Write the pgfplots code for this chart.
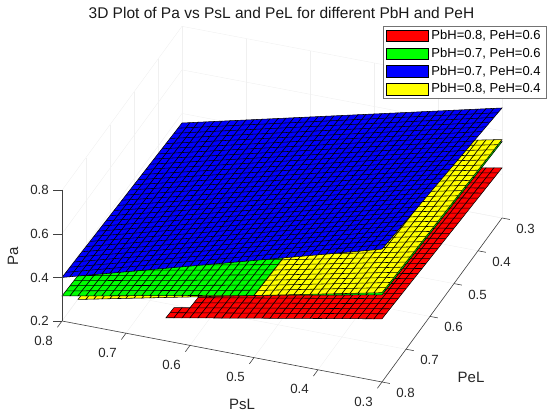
\documentclass[border=0pt]{standalone}
\usepackage{fontspec}
\setmainfont{Liberation Sans}
\usepackage{pgfplots}
\pgfplotsset{compat=1.18}
\pgfplotsset{
  colormap={cred}{rgb255=(255,0,0) rgb255=(255,0,0)},
  colormap={cgreen}{rgb255=(0,255,0) rgb255=(0,255,0)},
  colormap={cblue}{rgb255=(0,0,255) rgb255=(0,0,255)},
  colormap={cyellow}{rgb255=(255,255,0) rgb255=(255,255,0)},
  srf/.style={surf, shader=faceted, faceted color=black, line width=0.55pt, forget plot},
  mln/.style={draw=black, line width=0.55pt, mark=none, empty line=jump, forget plot},
}
\tikzset{
  gridc/.style={black!6, line width=0.4pt},
  axc/.style={black!75, line width=0.6pt},
}
\newcommand{\tickfont}{\fontsize{13.3}{15}\selectfont}
\newcommand{\labfont}{\fontsize{15}{17}\selectfont}
\begin{document}
\begin{tikzpicture}
\begin{axis}[
  x={(-640pt,122pt)}, y={(-240pt,-328pt)}, z={(0pt,217.8pt)},
  xmin=0.3, xmax=0.8, ymin=0.3, ymax=0.8, zmin=0.2, zmax=0.8,
  hide axis, clip=false,
  title={3D Plot of Pa vs PsL and PeL for different PbH and PeH},
  every axis title/.style={at={(axis cs:0.8,0.8,0.2)}, anchor=center, xshift=219.5pt, yshift=307.7pt, font=\fontsize{15.5}{18}\selectfont, inner sep=0pt, text=black!90},
  legend style={at={(axis cs:0.3,0.3,0.8)}, anchor=north east, xshift=45pt, yshift=61.3pt,
    font=\fontsize{13}{15}\selectfont, draw=black!55, line width=0.6pt, fill=white,
    inner xsep=3.5pt, inner ysep=1.5pt, row sep=1.6pt, nodes={inner xsep=2.6pt, inner ysep=2.6pt}},
  legend cell align=left,
]
% faint grid on the back planes
\pgfplotsinvokeforeach{0.3,0.4,0.5,0.6,0.7,0.8}{
  \draw[gridc] (axis cs:#1,0.3,0.2) -- (axis cs:#1,0.8,0.2);
  \draw[gridc] (axis cs:#1,0.3,0.2) -- (axis cs:#1,0.3,0.8);
  \draw[gridc] (axis cs:0.3,#1,0.2) -- (axis cs:0.8,#1,0.2);
  \draw[gridc] (axis cs:0.8,#1,0.2) -- (axis cs:0.8,#1,0.8);
}
\pgfplotsinvokeforeach{0.2,0.4,0.6,0.8}{
  \draw[gridc] (axis cs:0.8,0.3,#1) -- (axis cs:0.8,0.8,#1);
  \draw[gridc] (axis cs:0.3,0.3,#1) -- (axis cs:0.8,0.3,#1);
}
\pgfplotsinvokeforeach{3,4,5,6,7,8}{
  \coordinate (xf#1) at (axis cs:0.#1,0.8,0.2);
  \coordinate (yr#1) at (axis cs:0.3,0.#1,0.2);
}
\pgfplotsinvokeforeach{2,4,6,8}{
  \coordinate (zf#1) at (axis cs:0.8,0.8,0.#1);
}

% ---------------- red: PbH=0.8, PeH=0.6 ----------------
\addplot3[srf, colormap name=cred] table {
0.6125 0.3 0.2596
0.6125 0.8 0.3196

0.6000 0.3 0.2664
0.6000 0.8 0.3264

0.5875 0.3 0.2733
0.5875 0.8 0.3333

0.5750 0.3 0.2801
0.5750 0.8 0.3401

0.5625 0.3 0.2869
0.5625 0.8 0.3469

0.5500 0.3 0.2937
0.5500 0.8 0.3537

0.5375 0.3 0.3005
0.5375 0.8 0.3605

0.5250 0.3 0.3073
0.5250 0.8 0.3673

0.5125 0.3 0.3141
0.5125 0.8 0.3741

0.5000 0.3 0.3210
0.5000 0.8 0.3810

0.4875 0.3 0.3278
0.4875 0.8 0.3878

0.4750 0.3 0.3346
0.4750 0.8 0.3946

0.4625 0.3 0.3414
0.4625 0.8 0.4014

0.4500 0.3 0.3482
0.4500 0.8 0.4082

0.4375 0.3 0.3550
0.4375 0.8 0.4150

0.4250 0.3 0.3619
0.4250 0.8 0.4219

0.4125 0.3 0.3687
0.4125 0.8 0.4287

0.4000 0.3 0.3755
0.4000 0.8 0.4355

0.3875 0.3 0.3823
0.3875 0.8 0.4423

0.3750 0.3 0.3891
0.3750 0.8 0.4491

0.3625 0.3 0.3959
0.3625 0.8 0.4559

0.3500 0.3 0.4027
0.3500 0.8 0.4627

0.3375 0.3 0.4096
0.3375 0.8 0.4696

0.3250 0.3 0.4164
0.3250 0.8 0.4764

0.3125 0.3 0.4232
0.3125 0.8 0.4832

0.3000 0.3 0.4300
0.3000 0.8 0.4900
};
\addplot3[srf, colormap name=cred] table {
0.6375 0.7667 0.3020
0.6375 0.8 0.3060

0.6250 0.7667 0.3088
0.6250 0.8 0.3128

0.6125 0.7667 0.3156
0.6125 0.8 0.3196
};
\addplot3[mln] table {
0.6125 0.3167 0.2616
0.3 0.3167 0.4320

0.6125 0.3333 0.2636
0.3 0.3333 0.4340

0.6125 0.3500 0.2656
0.3 0.3500 0.4360

0.6125 0.3667 0.2676
0.3 0.3667 0.4380

0.6125 0.3833 0.2696
0.3 0.3833 0.4400

0.6125 0.4000 0.2716
0.3 0.4000 0.4420

0.6125 0.4167 0.2736
0.3 0.4167 0.4440

0.6125 0.4333 0.2756
0.3 0.4333 0.4460

0.6125 0.4500 0.2776
0.3 0.4500 0.4480

0.6125 0.4667 0.2796
0.3 0.4667 0.4500

0.6125 0.4833 0.2816
0.3 0.4833 0.4520

0.6125 0.5000 0.2836
0.3 0.5000 0.4540

0.6125 0.5167 0.2856
0.3 0.5167 0.4560

0.6125 0.5333 0.2876
0.3 0.5333 0.4580

0.6125 0.5500 0.2896
0.3 0.5500 0.4600

0.6125 0.5667 0.2916
0.3 0.5667 0.4620

0.6125 0.5833 0.2936
0.3 0.5833 0.4640

0.6125 0.6000 0.2956
0.3 0.6000 0.4660

0.6125 0.6167 0.2976
0.3 0.6167 0.4680

0.6125 0.6333 0.2996
0.3 0.6333 0.4700

0.6125 0.6500 0.3016
0.3 0.6500 0.4720

0.6125 0.6667 0.3036
0.3 0.6667 0.4740

0.6125 0.6833 0.3056
0.3 0.6833 0.4760

0.6125 0.7000 0.3076
0.3 0.7000 0.4780

0.6125 0.7167 0.3096
0.3 0.7167 0.4800

0.6125 0.7333 0.3116
0.3 0.7333 0.4820

0.6125 0.7500 0.3136
0.3 0.7500 0.4840

0.6125 0.7667 0.3156
0.3 0.7667 0.4860

0.6375 0.7833 0.3040
0.3 0.7833 0.4880
};

% ---------------- yellow (part below green): PbH=0.8, PeH=0.4 ----------------
\addplot3[srf, colormap name=cyellow] table {
0.7750 0.3 0.2630
0.7750 0.8 0.3130

0.7625 0.3 0.2708
0.7625 0.8 0.3208

0.7500 0.3 0.2786
0.7500 0.8 0.3286

0.7375 0.3 0.2864
0.7375 0.8 0.3364

0.7250 0.3 0.2943
0.7250 0.8 0.3443

0.7125 0.3 0.3021
0.7125 0.8 0.3521

0.7000 0.3 0.3099
0.7000 0.8 0.3599

0.6875 0.3 0.3177
0.6875 0.8 0.3677

0.6750 0.3 0.3255
0.6750 0.8 0.3755

0.6625 0.3 0.3333
0.6625 0.8 0.3833

0.6500 0.3 0.3412
0.6500 0.8 0.3912

0.6375 0.3 0.3490
0.6375 0.8 0.3990

0.6250 0.3 0.3568
0.6250 0.8 0.4068

0.6125 0.3 0.3646
0.6125 0.8 0.4146

0.6000 0.3 0.3724
0.6000 0.8 0.4224

0.5875 0.3 0.3802
0.5875 0.8 0.4302

0.5750 0.3 0.3881
0.5750 0.8 0.4381

0.5625 0.3 0.3959
0.5625 0.8 0.4459

0.5500 0.3 0.4037
0.5500 0.8 0.4537

0.5375 0.3 0.4115
0.5375 0.8 0.4615

0.5250 0.3 0.4193
0.5250 0.8 0.4693

0.5125 0.3 0.4271
0.5125 0.8 0.4771

0.5000 0.3 0.4349
0.5000 0.8 0.4849
};
\addplot3[mln] table {
0.775 0.3167 0.2647
0.5 0.3167 0.4366

0.775 0.3333 0.2663
0.5 0.3333 0.4382

0.775 0.3500 0.2680
0.5 0.3500 0.4399

0.775 0.3667 0.2697
0.5 0.3667 0.4416

0.775 0.3833 0.2713
0.5 0.3833 0.4432

0.775 0.4000 0.2730
0.5 0.4000 0.4449

0.775 0.4167 0.2747
0.5 0.4167 0.4466

0.775 0.4333 0.2763
0.5 0.4333 0.4482

0.775 0.4500 0.2780
0.5 0.4500 0.4499

0.775 0.4667 0.2797
0.5 0.4667 0.4516

0.775 0.4833 0.2813
0.5 0.4833 0.4532

0.775 0.5000 0.2830
0.5 0.5000 0.4549

0.775 0.5167 0.2847
0.5 0.5167 0.4566

0.775 0.5333 0.2863
0.5 0.5333 0.4582

0.775 0.5500 0.2880
0.5 0.5500 0.4599

0.775 0.5667 0.2897
0.5 0.5667 0.4616

0.775 0.5833 0.2913
0.5 0.5833 0.4632

0.775 0.6000 0.2930
0.5 0.6000 0.4649

0.775 0.6167 0.2947
0.5 0.6167 0.4666

0.775 0.6333 0.2963
0.5 0.6333 0.4682

0.775 0.6500 0.2980
0.5 0.6500 0.4699

0.775 0.6667 0.2997
0.5 0.6667 0.4716

0.775 0.6833 0.3013
0.5 0.6833 0.4732

0.775 0.7000 0.3030
0.5 0.7000 0.4749

0.775 0.7167 0.3047
0.5 0.7167 0.4766

0.775 0.7333 0.3063
0.5 0.7333 0.4782

0.775 0.7500 0.3080
0.5 0.7500 0.4799

0.775 0.7667 0.3097
0.5 0.7667 0.4816

0.775 0.7833 0.3113
0.5 0.7833 0.4832
};

% ---------------- green: PbH=0.7, PeH=0.6 ----------------
\addplot3[srf, colormap name=cgreen] table {
0.8000 0.3 0.2650
0.8000 0.8 0.3150

0.7875 0.3 0.2721
0.7875 0.8 0.3221

0.7750 0.3 0.2793
0.7750 0.8 0.3293

0.7625 0.3 0.2864
0.7625 0.8 0.3364

0.7500 0.3 0.2935
0.7500 0.8 0.3435

0.7375 0.3 0.3006
0.7375 0.8 0.3506

0.7250 0.3 0.3078
0.7250 0.8 0.3578

0.7125 0.3 0.3149
0.7125 0.8 0.3649

0.7000 0.3 0.3220
0.7000 0.8 0.3720

0.6875 0.3 0.3291
0.6875 0.8 0.3791

0.6750 0.3 0.3363
0.6750 0.8 0.3863

0.6625 0.3 0.3434
0.6625 0.8 0.3934

0.6500 0.3 0.3505
0.6500 0.8 0.4005

0.6375 0.3 0.3576
0.6375 0.8 0.4076

0.6250 0.3 0.3648
0.6250 0.8 0.4148

0.6125 0.3 0.3719
0.6125 0.8 0.4219

0.6000 0.3 0.3790
0.6000 0.8 0.4290

0.5875 0.3 0.3861
0.5875 0.8 0.4361

0.5750 0.3 0.3933
0.5750 0.8 0.4433

0.5625 0.3 0.4004
0.5625 0.8 0.4504

0.5500 0.3 0.4075
0.5500 0.8 0.4575

0.5375 0.3 0.4146
0.5375 0.8 0.4646

0.5250 0.3 0.4218
0.5250 0.8 0.4718

0.5125 0.3 0.4289
0.5125 0.8 0.4789

0.5000 0.3 0.4360
0.5000 0.8 0.4860

0.4875 0.3 0.4431
0.4875 0.8 0.4931

0.4750 0.3 0.4503
0.4750 0.8 0.5003

0.4625 0.3 0.4574
0.4625 0.8 0.5074

0.4500 0.3 0.4645
0.4500 0.8 0.5145

0.4375 0.3 0.4716
0.4375 0.8 0.5216

0.4250 0.3 0.4788
0.4250 0.8 0.5288

0.4125 0.3 0.4859
0.4125 0.8 0.5359

0.4000 0.3 0.4930
0.4000 0.8 0.5430

0.3875 0.3 0.5001
0.3875 0.8 0.5501

0.3750 0.3 0.5073
0.3750 0.8 0.5573

0.3625 0.3 0.5144
0.3625 0.8 0.5644

0.3500 0.3 0.5215
0.3500 0.8 0.5715

0.3375 0.3 0.5286
0.3375 0.8 0.5786

0.3250 0.3 0.5358
0.3250 0.8 0.5858

0.3125 0.3 0.5429
0.3125 0.8 0.5929

0.3000 0.3 0.5500
0.3000 0.8 0.6000
};
\addplot3[mln] table {
0.8 0.3167 0.2667
0.3 0.3167 0.5517

0.8 0.3333 0.2683
0.3 0.3333 0.5533

0.8 0.3500 0.2700
0.3 0.3500 0.5550

0.8 0.3667 0.2717
0.3 0.3667 0.5567

0.8 0.3833 0.2733
0.3 0.3833 0.5583

0.8 0.4000 0.2750
0.3 0.4000 0.5600

0.8 0.4167 0.2767
0.3 0.4167 0.5617

0.8 0.4333 0.2783
0.3 0.4333 0.5633

0.8 0.4500 0.2800
0.3 0.4500 0.5650

0.8 0.4667 0.2817
0.3 0.4667 0.5667

0.8 0.4833 0.2833
0.3 0.4833 0.5683

0.8 0.5000 0.2850
0.3 0.5000 0.5700

0.8 0.5167 0.2867
0.3 0.5167 0.5717

0.8 0.5333 0.2883
0.3 0.5333 0.5733

0.8 0.5500 0.2900
0.3 0.5500 0.5750

0.8 0.5667 0.2917
0.3 0.5667 0.5767

0.8 0.5833 0.2933
0.3 0.5833 0.5783

0.8 0.6000 0.2950
0.3 0.6000 0.5800

0.8 0.6167 0.2967
0.3 0.6167 0.5817

0.8 0.6333 0.2983
0.3 0.6333 0.5833

0.8 0.6500 0.3000
0.3 0.6500 0.5850

0.8 0.6667 0.3017
0.3 0.6667 0.5867

0.8 0.6833 0.3033
0.3 0.6833 0.5883

0.8 0.7000 0.3050
0.3 0.7000 0.5900

0.8 0.7167 0.3067
0.3 0.7167 0.5917

0.8 0.7333 0.3083
0.3 0.7333 0.5933

0.8 0.7500 0.3100
0.3 0.7500 0.5950

0.8 0.7667 0.3117
0.3 0.7667 0.5967

0.8 0.7833 0.3133
0.3 0.7833 0.5983
};

% ---------------- yellow (part above green) ----------------
\addplot3[srf, colormap name=cyellow] table {
0.5000 0.3 0.4349
0.5000 0.8 0.4849

0.4875 0.3 0.4428
0.4875 0.8 0.4928

0.4750 0.3 0.4506
0.4750 0.8 0.5006

0.4625 0.3 0.4584
0.4625 0.8 0.5084

0.4500 0.3 0.4662
0.4500 0.8 0.5162

0.4375 0.3 0.4740
0.4375 0.8 0.5240

0.4250 0.3 0.4818
0.4250 0.8 0.5318

0.4125 0.3 0.4897
0.4125 0.8 0.5397

0.4000 0.3 0.4975
0.4000 0.8 0.5475

0.3875 0.3 0.5053
0.3875 0.8 0.5553

0.3750 0.3 0.5131
0.3750 0.8 0.5631

0.3625 0.3 0.5209
0.3625 0.8 0.5709

0.3500 0.3 0.5287
0.3500 0.8 0.5787

0.3375 0.3 0.5366
0.3375 0.8 0.5866

0.3250 0.3 0.5444
0.3250 0.8 0.5944

0.3125 0.3 0.5522
0.3125 0.8 0.6022

0.3000 0.3 0.5600
0.3000 0.8 0.6100
};
\addplot3[mln] table {
0.5 0.3167 0.4366
0.3 0.3167 0.5617

0.5 0.3333 0.4382
0.3 0.3333 0.5633

0.5 0.3500 0.4399
0.3 0.3500 0.5650

0.5 0.3667 0.4416
0.3 0.3667 0.5667

0.5 0.3833 0.4432
0.3 0.3833 0.5683

0.5 0.4000 0.4449
0.3 0.4000 0.5700

0.5 0.4167 0.4466
0.3 0.4167 0.5717

0.5 0.4333 0.4482
0.3 0.4333 0.5733

0.5 0.4500 0.4499
0.3 0.4500 0.5750

0.5 0.4667 0.4516
0.3 0.4667 0.5767

0.5 0.4833 0.4532
0.3 0.4833 0.5783

0.5 0.5000 0.4549
0.3 0.5000 0.5800

0.5 0.5167 0.4566
0.3 0.5167 0.5817

0.5 0.5333 0.4582
0.3 0.5333 0.5833

0.5 0.5500 0.4599
0.3 0.5500 0.5850

0.5 0.5667 0.4616
0.3 0.5667 0.5867

0.5 0.5833 0.4632
0.3 0.5833 0.5883

0.5 0.6000 0.4649
0.3 0.6000 0.5900

0.5 0.6167 0.4666
0.3 0.6167 0.5917

0.5 0.6333 0.4682
0.3 0.6333 0.5933

0.5 0.6500 0.4699
0.3 0.6500 0.5950

0.5 0.6667 0.4716
0.3 0.6667 0.5967

0.5 0.6833 0.4732
0.3 0.6833 0.5983

0.5 0.7000 0.4749
0.3 0.7000 0.6000

0.5 0.7167 0.4766
0.3 0.7167 0.6017

0.5 0.7333 0.4782
0.3 0.7333 0.6033

0.5 0.7500 0.4799
0.3 0.7500 0.6050

0.5 0.7667 0.4816
0.3 0.7667 0.6067

0.5 0.7833 0.4832
0.3 0.7833 0.6083
};

% ---------------- blue: PbH=0.7, PeH=0.4 ----------------
\addplot3[srf, colormap name=cblue] table {
0.8000 0.3 0.3560
0.8000 0.8 0.4000

0.7875 0.3 0.3647
0.7875 0.8 0.4103

0.7750 0.3 0.3735
0.7750 0.8 0.4205

0.7625 0.3 0.3822
0.7625 0.8 0.4308

0.7500 0.3 0.3909
0.7500 0.8 0.4410

0.7375 0.3 0.3996
0.7375 0.8 0.4513

0.7250 0.3 0.4084
0.7250 0.8 0.4615

0.7125 0.3 0.4171
0.7125 0.8 0.4718

0.7000 0.3 0.4258
0.7000 0.8 0.4820

0.6875 0.3 0.4345
0.6875 0.8 0.4923

0.6750 0.3 0.4433
0.6750 0.8 0.5025

0.6625 0.3 0.4520
0.6625 0.8 0.5128

0.6500 0.3 0.4607
0.6500 0.8 0.5230

0.6375 0.3 0.4694
0.6375 0.8 0.5333

0.6250 0.3 0.4782
0.6250 0.8 0.5435

0.6125 0.3 0.4869
0.6125 0.8 0.5538

0.6000 0.3 0.4956
0.6000 0.8 0.5640

0.5875 0.3 0.5043
0.5875 0.8 0.5743

0.5750 0.3 0.5131
0.5750 0.8 0.5845

0.5625 0.3 0.5218
0.5625 0.8 0.5948

0.5500 0.3 0.5305
0.5500 0.8 0.6050

0.5375 0.3 0.5392
0.5375 0.8 0.6153

0.5250 0.3 0.5480
0.5250 0.8 0.6255

0.5125 0.3 0.5567
0.5125 0.8 0.6358

0.5000 0.3 0.5654
0.5000 0.8 0.6460

0.4875 0.3 0.5741
0.4875 0.8 0.6563

0.4750 0.3 0.5829
0.4750 0.8 0.6665

0.4625 0.3 0.5916
0.4625 0.8 0.6768

0.4500 0.3 0.6003
0.4500 0.8 0.6870

0.4375 0.3 0.6090
0.4375 0.8 0.6973

0.4250 0.3 0.6178
0.4250 0.8 0.7075

0.4125 0.3 0.6265
0.4125 0.8 0.7178

0.4000 0.3 0.6352
0.4000 0.8 0.7280

0.3875 0.3 0.6439
0.3875 0.8 0.7383

0.3750 0.3 0.6527
0.3750 0.8 0.7485

0.3625 0.3 0.6614
0.3625 0.8 0.7588

0.3500 0.3 0.6701
0.3500 0.8 0.7690

0.3375 0.3 0.6788
0.3375 0.8 0.7793

0.3250 0.3 0.6876
0.3250 0.8 0.7895

0.3125 0.3 0.6963
0.3125 0.8 0.7998

0.3000 0.3 0.7050
0.3000 0.8 0.8100
};
\addplot3[mln] table {
0.8 0.3167 0.3575
0.3 0.3167 0.7085

0.8 0.3333 0.3589
0.3 0.3333 0.7120

0.8 0.3500 0.3604
0.3 0.3500 0.7155

0.8 0.3667 0.3619
0.3 0.3667 0.7190

0.8 0.3833 0.3633
0.3 0.3833 0.7225

0.8 0.4000 0.3648
0.3 0.4000 0.7260

0.8 0.4167 0.3663
0.3 0.4167 0.7295

0.8 0.4333 0.3677
0.3 0.4333 0.7330

0.8 0.4500 0.3692
0.3 0.4500 0.7365

0.8 0.4667 0.3707
0.3 0.4667 0.7400

0.8 0.4833 0.3721
0.3 0.4833 0.7435

0.8 0.5000 0.3736
0.3 0.5000 0.7470

0.8 0.5167 0.3751
0.3 0.5167 0.7505

0.8 0.5333 0.3765
0.3 0.5333 0.7540

0.8 0.5500 0.3780
0.3 0.5500 0.7575

0.8 0.5667 0.3795
0.3 0.5667 0.7610

0.8 0.5833 0.3809
0.3 0.5833 0.7645

0.8 0.6000 0.3824
0.3 0.6000 0.7680

0.8 0.6167 0.3839
0.3 0.6167 0.7715

0.8 0.6333 0.3853
0.3 0.6333 0.7750

0.8 0.6500 0.3868
0.3 0.6500 0.7785

0.8 0.6667 0.3883
0.3 0.6667 0.7820

0.8 0.6833 0.3897
0.3 0.6833 0.7855

0.8 0.7000 0.3912
0.3 0.7000 0.7890

0.8 0.7167 0.3927
0.3 0.7167 0.7925

0.8 0.7333 0.3941
0.3 0.7333 0.7960

0.8 0.7500 0.3956
0.3 0.7500 0.7995

0.8 0.7667 0.3971
0.3 0.7667 0.8030

0.8 0.7833 0.3985
0.3 0.7833 0.8065
};

% ---------------- legend ----------------
\addlegendimage{legend image code/.code={\draw[fill={rgb,255:red,255;green,0;blue,0}, draw=black, line width=0.5pt] (0pt,-5.8pt) rectangle (42pt,5.8pt);}}
\addlegendentry{PbH=0.8, PeH=0.6}
\addlegendimage{legend image code/.code={\draw[fill={rgb,255:red,0;green,255;blue,0}, draw=black, line width=0.5pt] (0pt,-5.8pt) rectangle (42pt,5.8pt);}}
\addlegendentry{PbH=0.7, PeH=0.6}
\addlegendimage{legend image code/.code={\draw[fill={rgb,255:red,0;green,0;blue,255}, draw=black, line width=0.5pt] (0pt,-5.8pt) rectangle (42pt,5.8pt);}}
\addlegendentry{PbH=0.7, PeH=0.4}
\addlegendimage{legend image code/.code={\draw[fill={rgb,255:red,255;green,255;blue,0}, draw=black, line width=0.5pt] (0pt,-5.8pt) rectangle (42pt,5.8pt);}}
\addlegendentry{PbH=0.8, PeH=0.4}
\end{axis}

% axis lines, ticks and tick labels
\draw[axc] (xf8) -- (xf3) -- (yr8) -- (yr3);
\draw[axc] (zf2) -- (zf8);
\foreach \i in {3,...,8} {
  \draw[axc] (xf\i) -- ++(-4.6pt,-6.3pt);
  \node[font=\tickfont, text=black!85, inner sep=0pt] at ([shift={(-18.5pt,-19.5pt)}]xf\i) {0.\i};
  \draw[axc] (yr\i) -- ++(7.9pt,-1.5pt);
  \node[font=\tickfont, text=black!85, inner sep=0pt] at ([shift={(23.5pt,-11pt)}]yr\i) {0.\i};
}
\foreach \i in {2,4,6,8} {
  \draw[axc] (zf\i) -- ++(-8.5pt,0pt);
  \node[font=\tickfont, text=black!85, inner sep=0pt, anchor=east] at ([shift={(-13pt,0pt)}]zf\i) {0.\i};
}
\node[font=\labfont, text=black!85, rotate=90, inner sep=0pt] at ([shift={(-49pt,65pt)}]xf8) {Pa};
\node[font=\labfont, text=black!85, inner sep=0pt] at ([shift={(180pt,-83pt)}]xf8) {PsL};
\node[font=\labfont, text=black!85, inner sep=0pt] at ([shift={(409pt,-56pt)}]xf8) {PeL};

\pgfresetboundingbox
\path[use as bounding box] ([shift={(-62pt,321pt)}]xf8) rectangle ([shift={(488pt,-94pt)}]xf8);
\end{tikzpicture}
\end{document}
